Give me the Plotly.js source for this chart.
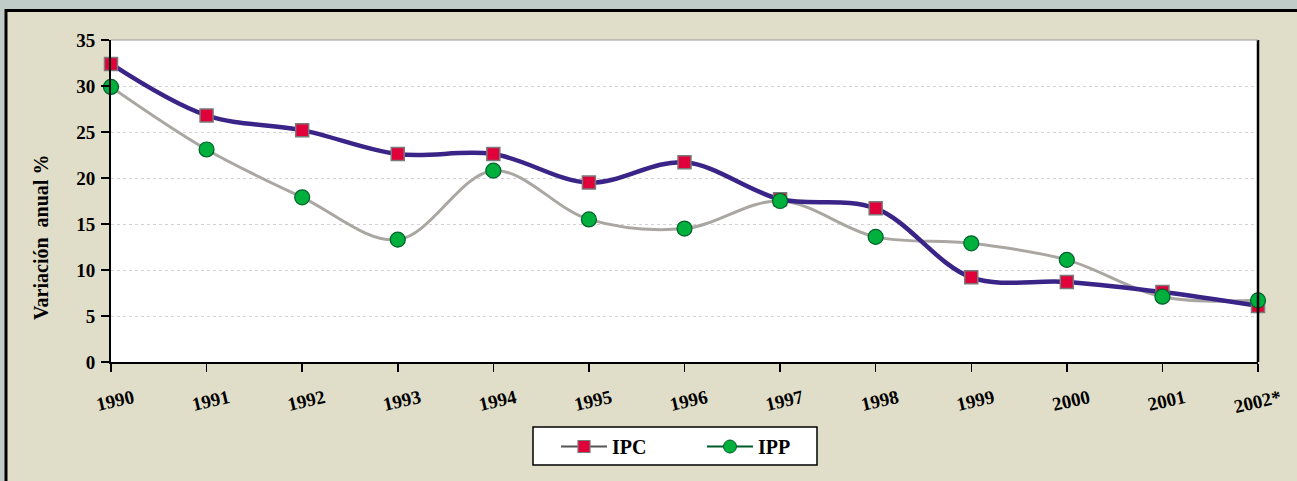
<!DOCTYPE html>
<html>
<head>
<meta charset="utf-8">
<script src="https://cdn.plot.ly/plotly-3.0.1.min.js"></script>
<style>
html,body{margin:0;padding:0;background:#C0CCC8;}
#chart{width:1297px;height:481px;}
</style>
</head>
<body>
<div id="chart"></div>
<script>
var years = ['1990','1991','1992','1993','1994','1995','1996','1997','1998','1999','2000','2001','2002*'];
var ipc = [32.4, 26.8, 25.2, 22.6, 22.6, 19.5, 21.7, 17.7, 16.7, 9.2, 8.7, 7.6, 6.1];
var ipp = [29.9, 23.1, 17.9, 13.3, 20.8, 15.5, 14.5, 17.5, 13.6, 12.9, 11.1, 7.1, 6.7];
var yTicks = [0, 5, 10, 15, 20, 25, 30, 35];
var yTitle = 'Variación  anual %';

var FONT = '"Liberation Serif", "Times New Roman", serif';

// plot-area pixel geometry -> paper coords helpers
var L = 111, R = 1258, T = 40, B = 362;
function px(x){ return (x - L) / (R - L); }
function py(y){ return (B - y) / (B - T); }

var traces = [
  {x: years, y: ipp, type: 'scatter', mode: 'lines', showlegend: false, cliponaxis: false,
   line: {color: '#AAA7A2', width: 3, shape: 'spline', smoothing: 1}},
  {x: years, y: ipc, type: 'scatter', mode: 'lines', showlegend: false, cliponaxis: false,
   line: {color: '#3A2487', width: 4.5, shape: 'spline', smoothing: 1}},
  {x: years, y: ipc, type: 'scatter', mode: 'markers', showlegend: false, cliponaxis: false,
   marker: {symbol: 'square', size: 13, color: '#E0003A', line: {color: '#7A7A7A', width: 1.5}}},
  {x: years, y: ipp, type: 'scatter', mode: 'markers', showlegend: false, cliponaxis: false,
   marker: {symbol: 'circle', size: 15, color: '#00B03C', line: {color: '#00602A', width: 1.2}}},
  // legend entries
  {x: [years[0]], y: [null], type: 'scatter', mode: 'lines+markers', name: 'IPC',
   line: {color: '#555555', width: 2},
   marker: {symbol: 'square', size: 12, color: '#E0003A', line: {color: '#7A7A7A', width: 1.2}}},
  {x: [years[0]], y: [null], type: 'scatter', mode: 'lines+markers', name: 'IPP',
   line: {color: '#005A2B', width: 2},
   marker: {symbol: 'circle', size: 13, color: '#00B03C', line: {color: '#00602A', width: 1}}}
];

var layout = {
  width: 1297, height: 481,
  margin: {l: L, r: 1297 - R, t: T, b: 481 - B, pad: 0},
  paper_bgcolor: '#E0DEC8',
  plot_bgcolor: '#FFFFFF',
  font: {family: FONT, size: 19, color: '#000', weight: 'bold'},
  showlegend: true,
  legend: {orientation: 'h', x: px(556), xanchor: 'left', y: py(427), yanchor: 'top',
           bgcolor: 'rgba(0,0,0,0)', borderwidth: 0, itemwidth: 46,
           entrywidth: 85, entrywidthmode: 'pixels',
           font: {family: FONT, size: 20, weight: 'bold', color: '#000'}},
  xaxis: {type: 'category', range: [0, years.length - 1], showgrid: false, zeroline: false,
          showline: true, linecolor: '#000', linewidth: 2,
          ticks: 'outside', ticklen: 8, tickwidth: 1.5, tickcolor: '#000',
          tickangle: -13, ticklabelshift: 22, ticklabelstandoff: 8,
          tickfont: {family: FONT, size: 19, weight: 'bold'}},
  yaxis: {range: [0, 35], tickvals: yTicks, ticktext: yTicks.map(String),
          showgrid: true, gridcolor: '#D2D2D2', griddash: 'dot', gridwidth: 1,
          zeroline: false, showline: true, linecolor: '#000', linewidth: 2,
          ticks: 'outside', ticklen: 8, tickwidth: 1.5, tickcolor: '#000',
          ticklabelstandoff: 2,
          tickfont: {family: FONT, size: 19, weight: 'bold'}},
  annotations: [
    {text: yTitle, xref: 'paper', yref: 'paper', x: px(41), y: py(238),
     xanchor: 'center', yanchor: 'middle', textangle: -90, showarrow: false,
     font: {family: FONT, size: 20, weight: 'bold', color: '#000'}}
  ],
  shapes: [
    // outer grey strips
    {type: 'rect', xref: 'paper', yref: 'paper', x0: px(-20), x1: px(1320), y0: py(10), y1: py(-20),
     fillcolor: '#C0CCC8', line: {width: 0}, layer: 'below'},
    {type: 'rect', xref: 'paper', yref: 'paper', x0: px(-20), x1: px(5), y0: py(500), y1: py(-20),
     fillcolor: '#C0CCC8', line: {width: 0}, layer: 'below'},
    // panel black border
    {type: 'line', xref: 'paper', yref: 'paper', x0: px(5), x1: px(1320), y0: py(10.5), y1: py(10.5),
     line: {color: '#000', width: 3}},
    {type: 'line', xref: 'paper', yref: 'paper', x0: px(6), x1: px(6), y0: py(9), y1: py(500),
     line: {color: '#000', width: 3}},
    // plot area right border & thin top line
    {type: 'line', xref: 'paper', yref: 'paper', x0: 1, x1: 1, y0: 0, y1: 1,
     line: {color: '#000', width: 2.5}},
    {type: 'line', xref: 'paper', yref: 'paper', x0: 0, x1: 1, y0: 1, y1: 1,
     line: {color: '#9A9A9A', width: 1}},
    // legend box
    {type: 'rect', xref: 'paper', yref: 'paper', x0: px(533), x1: px(817), y0: py(427), y1: py(465),
     fillcolor: '#FFFFFF', line: {color: '#000', width: 1.5}, layer: 'below'}
  ]
};

Plotly.newPlot('chart', traces, layout, {displayModeBar: false, staticPlot: true});
</script>
</body>
</html>
